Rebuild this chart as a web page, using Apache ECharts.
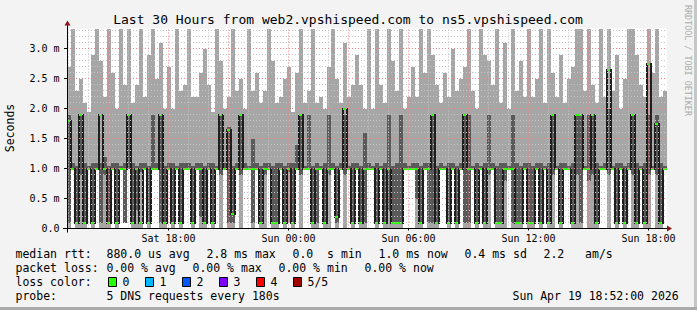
<!DOCTYPE html>
<html><head><meta charset="utf-8">
<script src="https://cdn.jsdelivr.net/npm/echarts@6/dist/echarts.min.js"></script>
<style>html,body{margin:0;padding:0;background:#f3f3f3}#c{width:697px;height:310px}</style>
</head><body><div id="c"></div>
<script>
// ---- data (milliseconds), one column = 12 minutes, starting Sat 12:55 ----
const startMinute = 775.5;   // minutes after Sat 00:00
const columnMinutes = 12;
const hiVals = [
2.7,3.4,2.3,2.5,2.1,1.95,2.9,3.4,2.8,2.2, 3.4,2.6,2.0,3.4,2.4,3.4,2.1,2.4,3.4,2.2, 2.9,3.4,2.5,3.1,2.0,2.7,2.0,3.4,2.3,2.4,
3.4,2.2,2.2,2.6,3.0,2.4,1.95,3.4,2.8,2.0, 2.2,3.4,2.3,2.5,2.0,3.4,2.3,2.6,2.1,2.3, 3.4,2.8,2.1,2.2,2.5,2.7,1.95,2.6,3.4,2.1,
2.3,3.4,2.1,2.2,2.0,2.7,3.4,2.5,2.1,3.1, 2.2,2.4,2.9,2.4,2.0,3.4,2.0,3.4,2.4,2.1, 3.4,2.8,2.3,3.4,2.0,2.2,2.7,2.2,3.4,2.6,
3.4,2.9,2.4,2.1,2.6,2.2,3.0,2.3,2.5,2.7, 3.4,2.3,2.0,3.4,2.9,2.8,2.4,3.4,2.1,3.1, 2.0,3.4,2.3,2.8,2.2,3.4,2.2,2.5,3.4,2.1,
3.4,2.6,2.2,2.9,2.1,2.5,2.7,3.4,3.4,2.3, 3.4,2.4,2.1,3.4,2.2,3.4,2.3,2.9,2.0,2.5, 3.4,3.4,2.9,2.4,2.2,3.4,2.6,3.4,2.2,2.3
];
const loVals = [
0,1.0,0,0,0,1.0,0,1.0,0,0, 0,1.0,0,1.0,0.1,1.0,0,0,0,1.0, 0,1.0,1.0,0,0,1.0,0,1.0,0,1.0,
1.0,0,1.0,0,0,1.0,0,1.0,0,1.0, 0,0,1.0,0,1.0,1.0,0,1.0,0,0, 1.0,0,0,1.0,0,0.1,0,1.0,0,1.0,
1.0,0,0,1.0,0,0,1.0,0,1.0,0, 1.0,0,1.0,0,0,1.0,1.0,0,1.0,0, 0,0,0,0,1.0,1.0,1.0,0,0,1.0,
0,0,0,1.0,1.0,0,1.0,0,1.0,0, 0,1.0,0,1.0,0,0,1.0,0,0,0, 1.0,0,0,0,1.0,0,0,1.0,0,1.0,
0,0,1.0,0,1.0,1.0,0,0,0,1.0, 0,0,0,1.0,1.0,0,1.0,0,1.0,0, 1.0,0,0,1.0,0,0,1.0,0,0,1.0
];
const darkLoVals = [
0.1,1.0,0.1,0.9,0.1,1.0,0.1,1.0,0.1,0.9, 0.1,1.0,0.1,1.0,0.1,0.9,0.1,0.3,0.95,1.0, 0.1,1.0,1.0,0.1,0.1,1.0,0.1,1.0,0.1,1.0,
1.0,0.1,1.0,0.2,0.1,1.0,0.1,1.0,0.9,1.0, 0.1,0.1,1.0,0.9,1.0,1.0,0.1,1.0,0.1,0.9, 1.0,0.1,0.1,1.0,0.1,0.95,0.1,1.0,0.9,1.0,
1.0,0.1,0.1,1.0,0.1,0.9,1.0,0.1,1.0,0.9, 1.0,0.1,1.0,0.1,0.1,1.0,1.0,0.1,1.0,0.1, 0.3,0.1,0.1,0.1,1.0,1.0,1.0,0.5,0.1,1.0,
0.1,0.1,0.1,1.0,1.0,0.1,1.0,0.1,1.0,0.1, 0.1,1.0,0.1,1.0,0.1,0.9,1.0,0.1,0.1,0.8, 1.0,0.1,0.1,0.1,1.0,0.1,0.1,1.0,0.1,1.0,
0.1,0.9,1.0,0.1,1.0,1.0,0.1,0.9,0.1,1.0, 0.8,0.9,0.1,1.0,1.0,0.9,1.0,0.1,1.0,0.1, 1.0,0.9,0.1,1.0,0.1,0.9,1.0,0.9,0.1,1.0
];
const darkHiVals = [
1.9,1.1,1.05,1.9,1.1,1.05,1.1,1.1,1.1,1.2, 1.05,1.1,1.1,1.05,1.1,1.9,1.1,1.05,1.1,1.1, 1.05,1.9,1.1,1.9,1.05,1.1,1.1,1.05,1.1,1.1,
1.1,1.05,1.1,1.1,1.05,1.1,1.1,1.05,1.9,1.1, 1.7,1.05,1.1,1.9,1.1,1.05,1.5,1.1,1.05,1.1, 1.1,1.05,1.1,1.1,1.05,1.1,1.1,1.4,1.9,1.05,
1.9,1.05,1.1,1.05,1.1,1.9,1.1,1.05,1.1,1.9, 1.05,1.1,1.1,1.05,1.6,1.1,1.05,1.1,1.05,1.1, 1.9,1.05,1.1,1.9,1.1,1.05,1.1,1.1,1.05,1.1,
1.1,1.9,1.05,1.1,1.05,1.1,1.1,1.05,1.1,1.9, 1.9,1.05,1.1,1.05,1.1,1.9,1.1,1.05,1.1,1.1, 1.05,1.9,1.1,1.05,1.1,1.1,1.05,1.1,1.1,1.05,
1.1,1.9,1.05,1.1,1.1,1.05,1.1,1.9,1.9,1.05, 1.9,1.9,1.1,1.05,1.1,2.0,1.05,1.1,1.1,1.05, 1.1,1.9,1.1,1.05,1.1,1.9,1.05,1.9,1.1,1.05
];
const medianVals = [
1.8,1.0,0.1,1.9,0.1,1.0,0.1,1.0,1.9,1.0, 0.1,1.0,0.1,1.0,1.0,1.9,0.1,1.0,0.1,1.0, 0.1,1.0,1.0,1.9,0.1,1.0,0.1,1.0,0.1,1.0,
1.0,0.1,1.0,1.0,0.1,1.0,0.1,1.0,1.9,1.0, 1.65,0.25,1.0,1.9,1.0,1.0,1.0,1.0,0.1,1.0, 1.0,0.1,0.1,1.0,0.1,1.0,0.1,1.0,1.9,1.0,
1.0,0.1,1.0,1.0,0.1,1.0,1.0,0.2,1.0,2.0, 1.0,0.1,1.0,0.1,1.0,1.0,1.0,0.1,1.0,0.1, 1.0,0.1,0.1,0.1,1.0,1.0,1.0,1.0,0.1,1.0,
1.0,1.9,0.1,1.0,1.0,0.1,1.0,0.1,1.0,1.9, 1.0,1.0,0.1,1.0,0.1,1.0,1.0,0.1,0.1,1.0, 1.0,1.0,0.1,0.1,1.0,0.1,0.1,1.0,0.1,1.0,
0.1,1.9,1.0,0.1,1.0,1.0,0.1,1.9,1.9,1.0, 1.0,1.9,0.1,1.0,1.0,2.65,1.0,0.1,1.0,0.1, 1.0,1.9,0.1,1.0,0.1,2.75,1.0,1.75,0.1,1.0
];
// ---- axis labels ----
const yLabelValues = [0, 0.5, 1.0, 1.5, 2.0, 2.5, 3.0];
const yLabelTexts = ['0.0', '0.5 m', '1.0 m', '1.5 m', '2.0 m', '2.5 m', '3.0 m'];
const xLabelValues = [1080, 1440, 1800, 2160, 2520];
const xLabelTexts = ['Sat 18:00', 'Sun 00:00', 'Sun 06:00', 'Sun 12:00', 'Sun 18:00'];
const lossColors = ['#26ff00', '#00b8ff', '#0059ff', '#7e00ff', '#ff0000', '#a10000'];
const lossLabels = ['0', '1', '2', '3', '4', '5/5'];

const xMin = startMinute, xMax = startMinute + columnMinutes * hiVals.length;
const yMax = 10 / 3;
const MONO = '"DejaVu Sans Mono", monospace';

const smokeData = hiVals.map((h, i) => [
  startMinute + i * columnMinutes, startMinute + (i + 1) * columnMinutes,
  loVals[i], darkLoVals[i], darkHiVals[i], h, medianVals[i],
  i > 0 ? medianVals[i - 1] : medianVals[i]
]);

// grid lines (drawn above the smoke, like rrdtool)
const gridLines = [];
for (let m = Math.ceil(xMin / 60) * 60; m < xMax; m += 60) {
  const major = m % 180 === 0;
  gridLines.push({xAxis: m, lineStyle: {color: major ? '#ec8484' : '#c6c6c6', type: [1, 2], width: 1}});
}
for (let k = 1; k * 0.1 < yMax; k++) {
  const major = k % 5 === 0;
  gridLines.push({yAxis: +(k * 0.1).toFixed(1), lineStyle: {color: major ? '#ec8484' : '#c6c6c6', type: [1, 2], width: 1}});
}

const chart = echarts.init(document.getElementById('c'), null, {renderer: 'svg'});
chart.setOption({
  animation: false,
  backgroundColor: '#f3f3f3',
  grid: {left: 67, right: 30, top: 28.5, bottom: 81.5, show: true, backgroundColor: '#ffffff', borderWidth: 0},
  xAxis: [{
    type: 'value', min: xMin, max: xMax, z: 6,
    axisLine: {show: true, onZero: false, lineStyle: {color: '#000', width: 1}},
    axisTick: {show: true, customValues: xLabelValues, length: 2, lineStyle: {color: '#000'}},
    axisLabel: {show: true, customValues: xLabelValues, margin: 5, color: '#000', fontFamily: MONO, fontSize: 10,
      formatter: v => { const j = xLabelValues.indexOf(v); return j >= 0 ? xLabelTexts[j] : ''; }},
    splitLine: {show: false}
  }],
  yAxis: [{
    type: 'value', min: 0, max: yMax, z: 6,
    axisLine: {show: true, lineStyle: {color: '#000', width: 1}},
    axisTick: {show: true, customValues: yLabelValues, length: 3, lineStyle: {color: '#000'}},
    axisLabel: {show: false},
    splitLine: {show: false}
  }],
  series: [{
    type: 'custom', clip: true, z: 2,
    encode: {x: [0, 1], y: [2, 5]},
    data: smokeData,
    renderItem: function (params, api) {
      const t0 = api.value(0), t1 = api.value(1);
      const lo = api.value(2), dlo = Math.max(api.value(3), lo), dhi = api.value(4);
      const hi = Math.min(api.value(5), yMax), md = api.value(6), pm = api.value(7);
      const X0 = api.coord([t0, 0])[0], X1 = api.coord([t1, 0])[0];
      const Y = v => Math.round(api.coord([t0, v])[1]);
      const w = X1 - X0;
      const ch = [];
      ch.push({type: 'rect', shape: {x: X0, y: Y(hi), width: w, height: Y(lo) - Y(hi)}, style: {fill: '#a6a6a6'}});
      if (dhi > dlo) ch.push({type: 'rect', shape: {x: X0, y: Y(dhi), width: w, height: Y(dlo) - Y(dhi)}, style: {fill: '#5a5a5a'}});
      if (pm !== md) {
        const a = Math.min(pm, md), b = Math.max(pm, md);
        ch.push({type: 'rect', shape: {x: X0 - 1, y: Y(b) - 1, width: 2, height: Y(a) - Y(b) + 2}, style: {fill: '#1e1e1e'}});
      }
      ch.push({type: 'rect', shape: {x: X0, y: Y(md) - 1, width: w, height: 2}, style: {fill: lossColors[0]}});
      return {type: 'group', children: ch};
    }
  }, {
    type: 'line', data: [], z: 5, silent: true,
    markLine: {silent: true, symbol: ['none', 'none'], label: {show: false}, animation: false,
      emphasis: {disabled: true}, data: gridLines}
  }]
});

// decorations: frame, title, y labels, legend text (rrdtool style)
const p0 = chart.convertToPixel({gridIndex: 0}, [xMin, 0]);
const p1 = chart.convertToPixel({gridIndex: 0}, [xMax, yMax]);
const ax = Math.round(p0[0]) + 0.5, ay = p0[1];
const g = [];
g.push({type: 'rect', shape: {x: 694, y: 0, width: 3, height: 310}, style: {fill: '#c6c6c6'}, silent: true});
g.push({type: 'rect', shape: {x: 0, y: 307, width: 697, height: 3}, style: {fill: '#a9a9a9'}, silent: true});
g.push({type: 'line', shape: {x1: ax, y1: ay + 4, x2: ax, y2: p1[1] - 4}, style: {stroke: '#000', lineWidth: 1}, z: 100});
g.push({type: 'line', shape: {x1: p0[0] - 4, y1: ay, x2: p1[0], y2: ay}, style: {stroke: '#000', lineWidth: 1}, z: 100});
g.push({type: 'polygon', shape: {points: [[ax, p1[1] - 8], [ax - 3, p1[1] - 3], [ax + 3, p1[1] - 3]]}, style: {fill: '#8b1414'}, z: 101});
g.push({type: 'polygon', shape: {points: [[p1[0] + 5, ay], [p1[0], ay - 3], [p1[0], ay + 3]]}, style: {fill: '#8b1414'}, z: 101});
yLabelValues.forEach((v, j) => {
  const py = chart.convertToPixel({gridIndex: 0}, [xMin, v])[1];
  g.push({type: 'text', x: p0[0] - 7.5, y: py, z: 200, style: {text: yLabelTexts[j], font: '10px ' + MONO, fill: '#000', align: 'right', verticalAlign: 'middle'}});
});
g.push({type: 'text', x: 348, y: 19, style: {text: 'Last 30 Hours from web2.vpshispeed.com to ns5.vpshispeed.com', font: '13px ' + MONO, fill: '#000', align: 'center', verticalAlign: 'middle'}});
g.push({type: 'text', x: 10, y: 128, rotation: Math.PI / 2, style: {text: 'Seconds', font: '11.5px ' + MONO, fill: '#000', align: 'center', verticalAlign: 'middle'}});
g.push({type: 'text', x: 688, y: 5, rotation: -Math.PI / 2, style: {text: 'RRDTOOL / TOBI OETIKER', font: '8.4px ' + MONO, fill: '#ababab', align: 'left', verticalAlign: 'middle'}});
const legendTexts = [
  [16, 254, 'median rtt:'], [107, 254, '880.0 us avg'], [207, 254, '2.8 ms max'], [293, 254, '0.0  s min'],
  [379, 254, '1.0 ms now'], [465, 254, '0.4 ms sd'], [544, 254, '2.2   am/s'],
  [16, 268, 'packet loss:'], [107, 268, '0.00 % avg'], [193, 268, '0.00 % max'], [279, 268, '0.00 % min'], [365, 268, '0.00 % now'],
  [16, 282, 'loss color:'],
  [16, 296, 'probe:'], [107, 296, '5 DNS requests every 180s'], [513, 296, 'Sun Apr 19 18:52:00 2026']
];
legendTexts.forEach(t => g.push({type: 'text', x: t[0] - 0.5, y: t[1], style: {text: t[2], font: '11.5px ' + MONO, fill: '#000', align: 'left', verticalAlign: 'middle'}}));
lossColors.forEach((c, i) => {
  const bx = 108 + i * 37;
  g.push({type: 'rect', shape: {x: bx + 0.5, y: 277.5, width: 8, height: 9}, style: {fill: c, stroke: '#000', lineWidth: 1}});
  g.push({type: 'text', x: bx + 14.5, y: 282, style: {text: lossLabels[i], font: '11.5px ' + MONO, fill: '#000', align: 'left', verticalAlign: 'middle'}});
});
chart.setOption({graphic: g});
</script></body></html>
